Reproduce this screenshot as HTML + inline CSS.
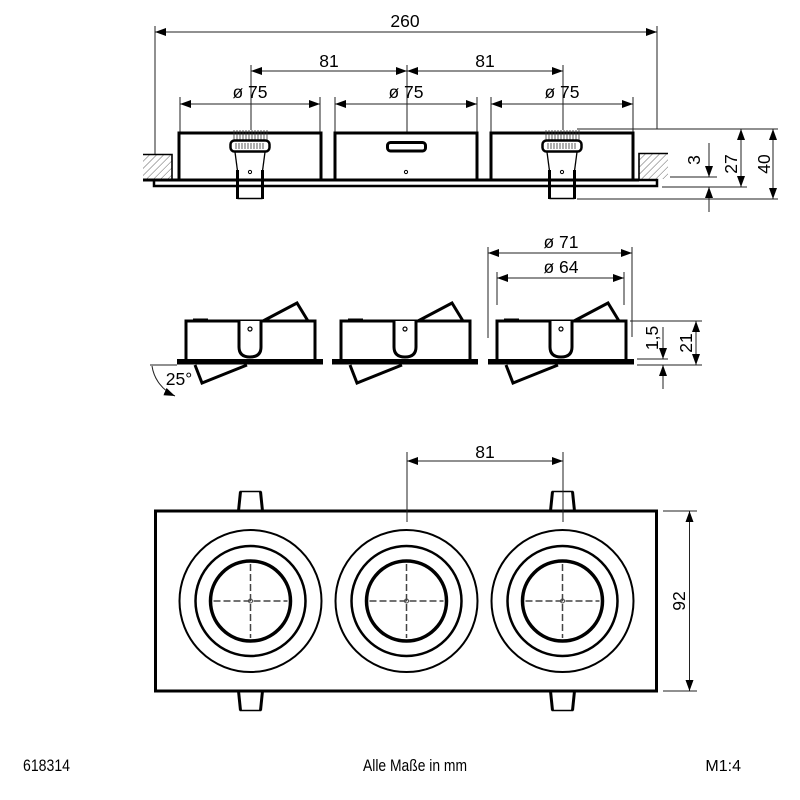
<!DOCTYPE html>
<html>
<head>
<meta charset="utf-8">
<style>
html,body{margin:0;padding:0;background:#fff;}
svg{display:block;}
text{font-family:"Liberation Sans",Arial,sans-serif;fill:#000;}
</style>
</head>
<body>
<svg width="800" height="800" viewBox="0 0 800 800" xmlns="http://www.w3.org/2000/svg">
<defs>
<marker id="a" viewBox="0 0 11 8" refX="11" refY="4" markerWidth="11" markerHeight="8" markerUnits="userSpaceOnUse" orient="auto-start-reverse"><path d="M0,0L11,4L0,8z" fill="#000"/></marker>
<pattern id="h" width="5" height="5" patternUnits="userSpaceOnUse" patternTransform="rotate(45)"><line x1="0" y1="0" x2="0" y2="5" stroke="#666" stroke-width="1"/></pattern>
<g id="clip">
  <g stroke="#333" stroke-width="0.8">
    <line x1="-16" y1="130" x2="-16" y2="140"/><line x1="-13" y1="130" x2="-13" y2="140"/><line x1="-10" y1="130" x2="-10" y2="140"/><line x1="-7" y1="130" x2="-7" y2="140"/><line x1="-4" y1="130" x2="-4" y2="140"/><line x1="-1" y1="130" x2="-1" y2="140"/><line x1="2" y1="130" x2="2" y2="140"/><line x1="5" y1="130" x2="5" y2="140"/><line x1="8" y1="130" x2="8" y2="140"/><line x1="11" y1="130" x2="11" y2="140"/><line x1="14" y1="130" x2="14" y2="140"/><line x1="17" y1="130" x2="17" y2="140"/>
  </g>
  <rect x="-19.5" y="140.5" width="39" height="11" rx="4" fill="#fff" stroke="#000" stroke-width="2.5"/>
  <g stroke="#333" stroke-width="0.8">
    <line x1="-14" y1="143" x2="-14" y2="149"/><line x1="-11" y1="143" x2="-11" y2="149"/><line x1="-8" y1="143" x2="-8" y2="149"/><line x1="-5" y1="143" x2="-5" y2="149"/><line x1="-2" y1="143" x2="-2" y2="149"/><line x1="1" y1="143" x2="1" y2="149"/><line x1="4" y1="143" x2="4" y2="149"/><line x1="7" y1="143" x2="7" y2="149"/><line x1="10" y1="143" x2="10" y2="149"/><line x1="13" y1="143" x2="13" y2="149"/>
  </g>
  <line x1="-15" y1="152" x2="-12.5" y2="171" stroke="#000" stroke-width="1.3"/>
  <line x1="15" y1="152" x2="12.5" y2="171" stroke="#000" stroke-width="1.3"/>
  <line x1="-12.5" y1="170" x2="-12.5" y2="199" stroke="#000" stroke-width="3"/>
  <line x1="12.5" y1="170" x2="12.5" y2="199" stroke="#000" stroke-width="3"/>
  <line x1="-12.5" y1="198.5" x2="12.5" y2="198.5" stroke="#000" stroke-width="1.5"/>
  <circle cx="0" cy="172" r="1.6" fill="none" stroke="#000" stroke-width="1"/>
</g>
<g id="mid">
  <rect x="-9" y="359" width="146" height="5.5" fill="#000"/>
  <path d="M0,359V321H129V359" fill="none" stroke="#000" stroke-width="3"/>
  <rect x="7" y="318.5" width="15" height="3" fill="#000"/>
  <path d="M53,321V347Q53,357 64,357Q75,357 75,347V321" fill="#fff" stroke="#000" stroke-width="3"/>
  <circle cx="64" cy="329" r="2" fill="none" stroke="#000" stroke-width="1.2"/>
  <polyline points="77,321 111,303 122,321" fill="none" stroke="#000" stroke-width="3" stroke-linejoin="miter"/>
  <polyline points="9,365 16,383 61,365" fill="none" stroke="#000" stroke-width="3"/>
</g>
<g id="lamp">
  <circle cx="0" cy="0" r="71" fill="none" stroke="#000" stroke-width="2"/>
  <circle cx="0" cy="0" r="55" fill="none" stroke="#000" stroke-width="2.5"/>
  <circle cx="0" cy="0" r="40" fill="none" stroke="#000" stroke-width="3.5"/>
  <line x1="-37" y1="0" x2="37" y2="0" stroke="#444" stroke-width="1.5" stroke-dasharray="7 3"/>
  <line x1="0" y1="-37" x2="0" y2="37" stroke="#444" stroke-width="1.5" stroke-dasharray="7 3"/>
  <circle cx="0" cy="0" r="2" fill="none" stroke="#444" stroke-width="1"/>
</g>
</defs>

<!-- ============ TOP VIEW (side) ============ -->
<g stroke="#222" stroke-width="1" fill="none">
  <line x1="155" y1="32" x2="657" y2="32" marker-start="url(#a)" marker-end="url(#a)"/>
  <line x1="155" y1="26" x2="155" y2="154"/>
  <line x1="657" y1="26" x2="657" y2="129"/>
  <line x1="251" y1="71" x2="407" y2="71" marker-start="url(#a)" marker-end="url(#a)"/>
  <line x1="407" y1="71" x2="563" y2="71" marker-start="url(#a)" marker-end="url(#a)"/>
  <line x1="251" y1="65" x2="251" y2="130"/>
  <line x1="407" y1="65" x2="407" y2="133"/>
  <line x1="563" y1="65" x2="563" y2="130"/>
  <line x1="180" y1="104" x2="320" y2="104" marker-start="url(#a)" marker-end="url(#a)"/>
  <line x1="335" y1="104" x2="477" y2="104" marker-start="url(#a)" marker-end="url(#a)"/>
  <line x1="491" y1="104" x2="633" y2="104" marker-start="url(#a)" marker-end="url(#a)"/>
  <line x1="180" y1="97" x2="180" y2="133"/>
  <line x1="320" y1="97" x2="320" y2="133"/>
  <line x1="335" y1="97" x2="335" y2="133"/>
  <line x1="477" y1="97" x2="477" y2="133"/>
  <line x1="491" y1="97" x2="491" y2="133"/>
  <line x1="633" y1="97" x2="633" y2="133"/>
  <!-- right dims -->
  <line x1="577" y1="129" x2="778" y2="129"/>
  <line x1="670" y1="177" x2="717" y2="177"/>
  <line x1="662" y1="187" x2="747" y2="187"/>
  <line x1="577" y1="199" x2="778" y2="199"/>
  <line x1="709" y1="143" x2="709" y2="177" marker-end="url(#a)"/>
  <line x1="709" y1="212" x2="709" y2="187" marker-end="url(#a)"/>
  <line x1="741" y1="129" x2="741" y2="187" marker-start="url(#a)" marker-end="url(#a)"/>
  <line x1="773" y1="129" x2="773" y2="199" marker-start="url(#a)" marker-end="url(#a)"/>
</g>
<g font-size="17.5" text-anchor="middle">
  <text x="405" y="27">260</text>
  <text x="329" y="67">81</text>
  <text x="485" y="67">81</text>
  <text x="250" y="98">ø 75</text>
  <text x="406" y="98">ø 75</text>
  <text x="562" y="98">ø 75</text>
  <text transform="translate(700,160) rotate(-90)">3</text>
  <text transform="translate(737,164) rotate(-90)">27</text>
  <text transform="translate(770,164) rotate(-90)">40</text>
</g>

<!-- hatch blocks -->
<rect x="143" y="154" width="29" height="25" fill="url(#h)"/>
<path d="M143,154.5H172V180" fill="none" stroke="#000" stroke-width="1.6"/>
<rect x="639" y="153" width="29" height="26" fill="url(#h)"/>
<path d="M639,180V153.5H668" fill="none" stroke="#000" stroke-width="1.6"/>

<!-- plate -->
<rect x="154" y="180" width="503" height="6" fill="none" stroke="#000" stroke-width="2.5"/>
<line x1="143" y1="180" x2="639" y2="180" stroke="#000" stroke-width="3"/>

<!-- boxes -->
<path d="M179,180V133H321V180" fill="none" stroke="#000" stroke-width="3"/>
<path d="M335,180V133H477V180" fill="none" stroke="#000" stroke-width="3"/>
<path d="M491,180V133H633V180" fill="none" stroke="#000" stroke-width="3"/>
<use href="#clip" transform="translate(250,0)"/>
<use href="#clip" transform="translate(562,0)"/>
<rect x="387.5" y="142.5" width="38" height="8.5" rx="3" fill="none" stroke="#000" stroke-width="3"/>
<circle cx="406" cy="172" r="1.6" fill="none" stroke="#000" stroke-width="1"/>

<!-- ============ MIDDLE VIEW ============ -->
<use href="#mid" transform="translate(186,0)"/>
<use href="#mid" transform="translate(341,0)"/>
<use href="#mid" transform="translate(497,0)"/>
<g stroke="#222" stroke-width="1" fill="none">
  <line x1="150" y1="365" x2="177" y2="365"/>
  <path d="M152,366 A39,39 0 0,0 175,396" marker-end="url(#a)"/>
  <line x1="488" y1="253" x2="632" y2="253" marker-start="url(#a)" marker-end="url(#a)"/>
  <line x1="488" y1="247" x2="488" y2="338"/>
  <line x1="632" y1="247" x2="632" y2="337"/>
  <line x1="497" y1="278" x2="624" y2="278" marker-start="url(#a)" marker-end="url(#a)"/>
  <line x1="497" y1="272" x2="497" y2="305"/>
  <line x1="624" y1="272" x2="624" y2="305"/>
  <line x1="630" y1="321" x2="702" y2="321"/>
  <line x1="637" y1="359" x2="668" y2="359"/>
  <line x1="637" y1="365" x2="702" y2="365"/>
  <line x1="663" y1="327" x2="663" y2="359" marker-end="url(#a)"/>
  <line x1="663" y1="389" x2="663" y2="365" marker-end="url(#a)"/>
  <line x1="696" y1="321" x2="696" y2="365" marker-start="url(#a)" marker-end="url(#a)"/>
</g>
<g font-size="17.5" text-anchor="middle">
  <text x="179" y="385">25°</text>
  <text x="561" y="248">ø 71</text>
  <text x="561" y="273">ø 64</text>
  <text transform="translate(658,338) rotate(-90)">1,5</text>
  <text transform="translate(692,343) rotate(-90)">21</text>
</g>

<!-- ============ BOTTOM VIEW ============ -->
<g fill="#fff" stroke="#000">
  <path d="M238.5,511 L240.5,491.5 H260.5 L262.5,511" stroke-width="1.5"/>
  <line x1="238.5" y1="511" x2="240.5" y2="491.5" stroke-width="3"/>
  <line x1="262.5" y1="511" x2="260.5" y2="491.5" stroke-width="3"/>
  <path d="M550.5,511 L552.5,491.5 H572.5 L574.5,511" stroke-width="1.5"/>
  <line x1="550.5" y1="511" x2="552.5" y2="491.5" stroke-width="3"/>
  <line x1="574.5" y1="511" x2="572.5" y2="491.5" stroke-width="3"/>
  <path d="M238.5,691 L240.5,710.5 H260.5 L262.5,691" stroke-width="1.5"/>
  <line x1="238.5" y1="691" x2="240.5" y2="710.5" stroke-width="3"/>
  <line x1="262.5" y1="691" x2="260.5" y2="710.5" stroke-width="3"/>
  <path d="M550.5,691 L552.5,710.5 H572.5 L574.5,691" stroke-width="1.5"/>
  <line x1="550.5" y1="691" x2="552.5" y2="710.5" stroke-width="3"/>
  <line x1="574.5" y1="691" x2="572.5" y2="710.5" stroke-width="3"/>
</g>
<rect x="155.5" y="511" width="501" height="180" fill="none" stroke="#000" stroke-width="3"/>
<use href="#lamp" transform="translate(250.5,601)"/>
<use href="#lamp" transform="translate(406.5,601)"/>
<use href="#lamp" transform="translate(562.5,601)"/>
<g stroke="#222" stroke-width="1" fill="none">
  <line x1="407" y1="461" x2="563" y2="461" marker-start="url(#a)" marker-end="url(#a)"/>
  <line x1="407" y1="452" x2="407" y2="522"/>
  <line x1="563" y1="452" x2="563" y2="522"/>
  <line x1="663" y1="511" x2="697" y2="511"/>
  <line x1="663" y1="691" x2="697" y2="691"/>
  <line x1="689.5" y1="511" x2="689.5" y2="691" marker-start="url(#a)" marker-end="url(#a)"/>
</g>
<g font-size="17.5" text-anchor="middle">
  <text x="485" y="458">81</text>
  <text transform="translate(685,601) rotate(-90)">92</text>
</g>

<!-- footer -->
<g font-size="17">
  <text x="23" y="771" textLength="47" lengthAdjust="spacingAndGlyphs">618314</text>
  <text x="363" y="771" textLength="104" lengthAdjust="spacingAndGlyphs">Alle Maße in mm</text>
  <text x="741" y="771" text-anchor="end" font-size="16">M1:4</text>
</g>
</svg>
</body>
</html>
